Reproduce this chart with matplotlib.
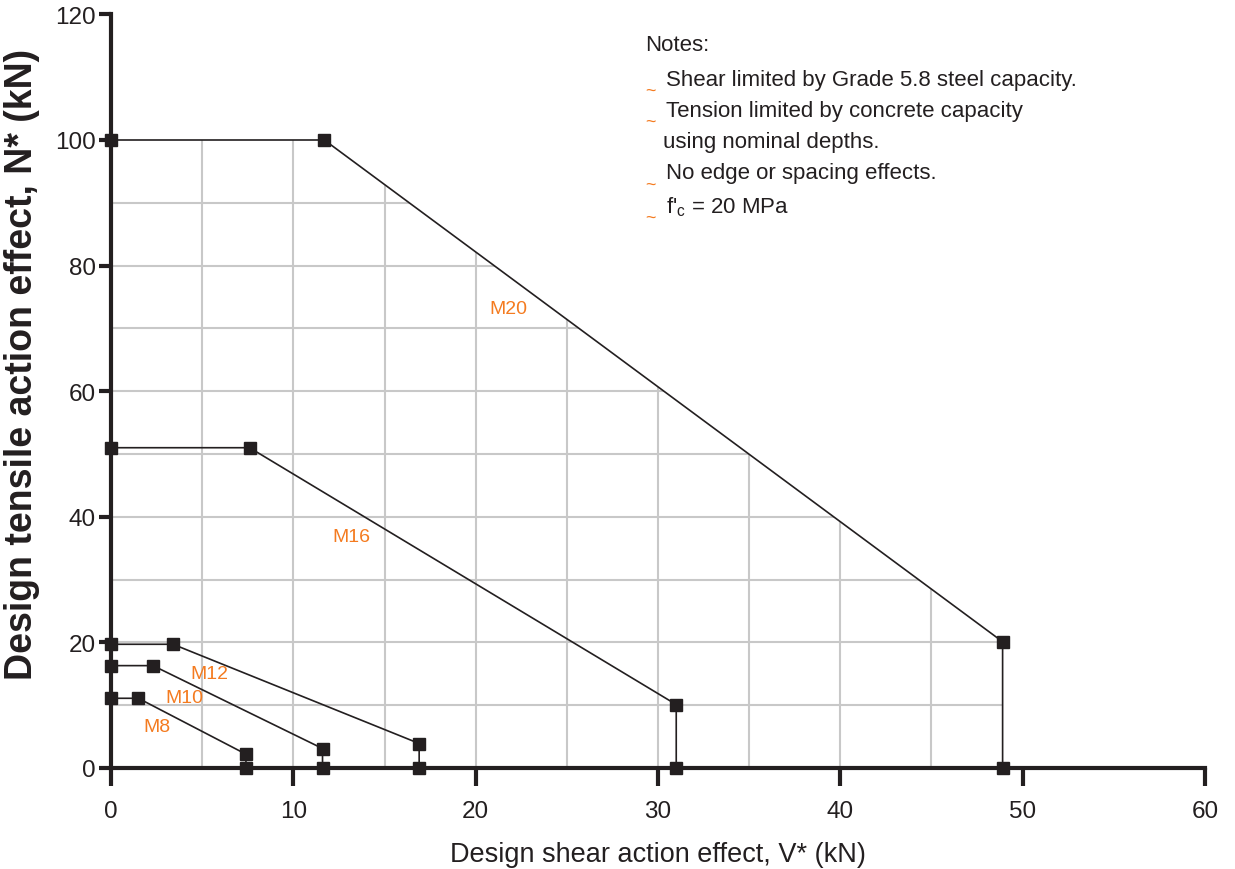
import matplotlib.pyplot as plt
from matplotlib.patches import Polygon

plt.rcParams['font.family'] = ['Liberation Sans', 'DejaVu Sans']

# interaction curves, V* (kN) vs N* (kN)
sizes = ['M8', 'M10', 'M12', 'M16', 'M20']
shear = {
    'M8':  [0, 1.5, 7.4, 7.4],
    'M10': [0, 2.3, 11.6, 11.6],
    'M12': [0, 3.4, 16.9, 16.9],
    'M16': [0, 7.6, 31.0, 31.0],
    'M20': [0, 11.7, 48.9, 48.9],
}
tension = {
    'M8':  [11.1, 11.1, 2.2, 0],
    'M10': [16.3, 16.3, 3.1, 0],
    'M12': [19.7, 19.7, 3.9, 0],
    'M16': [51.0, 51.0, 10.1, 0],
    'M20': [100, 100, 20.1, 0],
}
label_pos = {
    'M8':  (2.5, 6.6),
    'M10': (4.0, 11.2),
    'M12': (5.4, 15.0),
    'M16': (13.2, 36.8),
    'M20': (21.8, 73.1),
}
notes = [
    'Shear limited by Grade 5.8 steel capacity.',
    'Tension limited by concrete capacity',
    'using nominal depths.',
    'No edge or spacing effects.',
    "f'$_\\mathregular{c}$ = 20 MPa",
]
bullet = [True, True, False, True, True]

orange = '#f47b20'
dark = '#231f20'

fig = plt.figure(figsize=(12.35, 8.7), dpi=100)
ax = fig.add_axes([0.0899, 0.1161, 0.8858, 0.8662])
ax.set_xlim(0, 60)
ax.set_ylim(0, 120)

# grid only inside the M20 envelope
env = Polygon(list(zip(shear['M20'] + [0], tension['M20'] + [0])), closed=True,
              facecolor='none', edgecolor='none', transform=ax.transData)
ax.add_patch(env)
for xv in range(5, 50, 5):
    g = ax.plot([xv, xv], [0, 100], color='#c8c8c8', lw=1.5, zorder=1)[0]
    g.set_clip_path(env)
for yv in range(10, 100, 10):
    g = ax.plot([0, 49], [yv, yv], color='#c8c8c8', lw=1.5, zorder=1)[0]
    g.set_clip_path(env)

for s in sizes:
    ax.plot(shear[s], tension[s], color=dark, lw=1.2, marker='s', ms=9,
            mfc=dark, mec=dark, clip_on=False, zorder=5)
    ax.text(label_pos[s][0], label_pos[s][1], s, color=orange, fontsize=14,
            ha='center', va='center')

for side in ['top', 'right']:
    ax.spines[side].set_visible(False)
for side in ['left', 'bottom']:
    ax.spines[side].set_linewidth(3)
    ax.spines[side].set_color(dark)
    ax.spines[side].set_zorder(6)

ax.set_xticks(range(0, 61, 10))
ax.set_yticks(range(0, 121, 20))
ax.tick_params(axis='both', direction='out', width=3, color=dark,
               labelsize=17.5, labelcolor=dark)
ax.tick_params(axis='x', length=13, pad=10)
ax.tick_params(axis='y', length=9, pad=2)

ax.set_xlabel('Design shear action effect, V* (kN)', fontsize=19.5, color=dark,
              labelpad=14)
ax.set_ylabel('Design tensile action effect, N* (kN)', fontsize=27, color=dark,
              fontweight='bold', va='center')
ax.yaxis.set_label_coords(-0.081, 0.537)

# notes block
fig.text(0.5223, 0.948, 'Notes:', fontsize=16, color=dark, va='center')
ys = [0.908, 0.872, 0.836, 0.800, 0.762]
for note, yy, b in zip(notes, ys, bullet):
    if b:
        fig.text(0.5223, yy - 0.013, '~', fontsize=13, color=orange, va='center')
        fig.text(0.5395, yy, note, fontsize=16, color=dark, va='center')
    else:
        fig.text(0.5365, yy, note, fontsize=16, color=dark, va='center')

fig.savefig('out.png', dpi=100)
